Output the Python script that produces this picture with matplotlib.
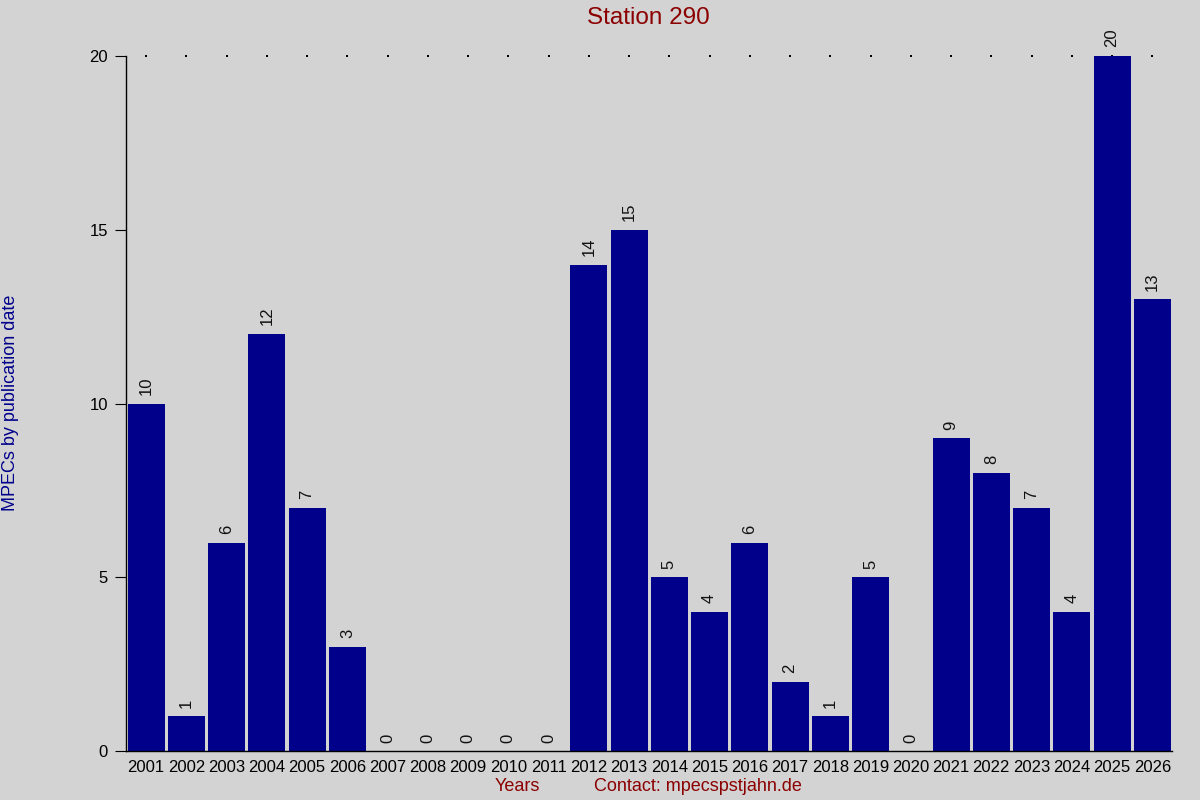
import matplotlib.pyplot as plt

YEARS = [str(y) for y in range(2001, 2027)]
COUNTS = [10, 1, 6, 12, 7, 3, 0, 0, 0, 0, 0, 14, 15, 5, 4, 6, 2, 1, 5, 0, 9, 8, 7, 4, 20, 13]
Y_TICKS = [0, 5, 10, 15, 20]

BG = "#d3d3d3"
BAR = "#00008b"
RED = "#8b0000"

plt.rcParams["font.family"] = ["Liberation Sans", "DejaVu Sans"]

fig = plt.figure(figsize=(12, 8), dpi=100, facecolor=BG)
ax = fig.add_axes([0.105, 0.061, 0.872, 0.869], facecolor=BG)

xs = list(range(len(YEARS)))
ax.bar(xs, COUNTS, width=0.92, color=BAR)

for x, v in zip(xs, COUNTS):
    ax.text(x, v + 0.25, str(v), rotation=90, ha="center", va="bottom",
            fontsize=12, color="#111111")

# dotted line at the top, one dot per bar
ax.scatter(xs, [Y_TICKS[-1]] * len(xs), s=1.0, color="black", marker="s",
           linewidths=0, zorder=0.5, clip_on=False)

ax.set_xlim(-0.5, len(YEARS) - 0.5)
ax.set_ylim(0, Y_TICKS[-1])
ax.set_xticks(xs)
ax.set_xticklabels(YEARS, fontsize=12)
ax.set_yticks(Y_TICKS)
ax.tick_params(axis="x", length=0, pad=6)
ax.tick_params(axis="y", length=8, labelsize=12, direction="out", pad=5)

for s in ["top", "right"]:
    ax.spines[s].set_visible(False)
ax.spines["left"].set_linewidth(1)
ax.spines["bottom"].set_linewidth(1)

fig.text(0.54, 0.977, "Station 290", ha="center", va="center", fontsize=17.5, color=RED)
fig.text(0.431, 0.017, "Years", ha="center", va="center", fontsize=13, color=RED)
fig.text(0.582, 0.017, "Contact: mpecspstjahn.de", ha="center", va="center", fontsize=13, color=RED)
fig.text(0.009, 0.496, "MPECs by publication date", rotation=90, ha="center", va="center",
         fontsize=13, color=BAR)

fig.savefig("out.png", dpi=100, facecolor=BG)
